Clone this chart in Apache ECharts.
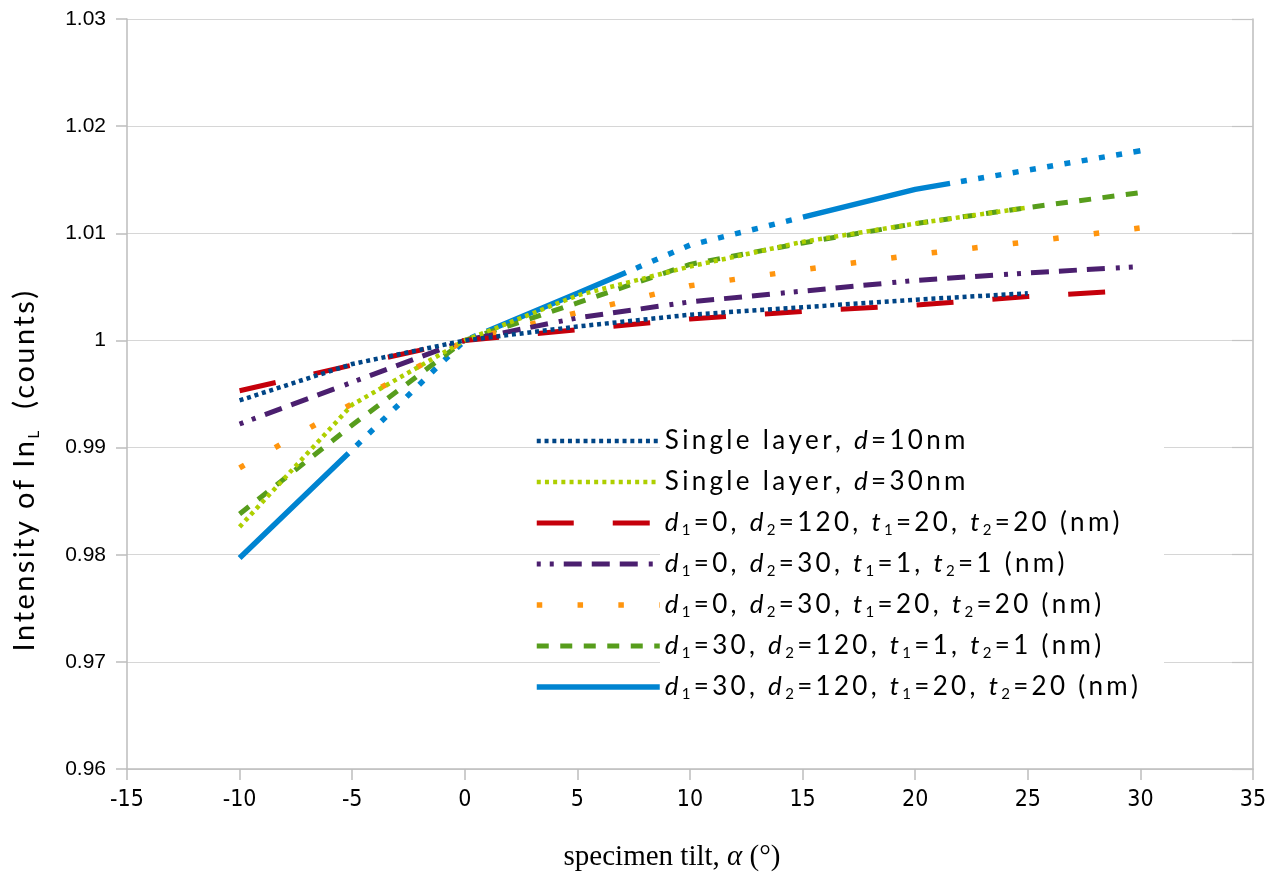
<!DOCTYPE html>
<html>
<head>
<meta charset="utf-8">
<title>Intensity vs specimen tilt</title>
<script src="https://cdn.jsdelivr.net/npm/echarts@6/dist/echarts.min.js"></script>
<style>
  html, body { margin: 0; padding: 0; background: #fff; }
  #chart { width: 1283px; height: 882px; }
</style>
</head>
<body>
<div id="chart"></div>
<script>
// Tilt angles (degrees) and normalised In L intensity for each model
const alpha = [-10, -5, 0, 5, 10, 15, 20, 25, 30];

const single10   = [0.9944, 0.9978, 1.0, 1.0013, 1.0024, 1.0031, 1.0038, 1.0044, null];
const single30   = [0.9826, 0.9940, 1.0, 1.0042, 1.0069, 1.0092, 1.0109, 1.0124, null];
const d0_120_t20 = [0.9953, 0.9977, 1.0, 1.0010, 1.0020, 1.0027, 1.0033, 1.0041, 1.0047];
const d0_30_t1   = [0.9922, 0.9961, 1.0, 1.0021, 1.0036, 1.0046, 1.0056, 1.0063, 1.0069];
const d0_30_t20  = [0.9881, 0.9941, 1.0, 1.0026, 1.0051, 1.0066, 1.0080, 1.0092, 1.0105];
const d30_120_t1 = [0.9838, 0.9921, 1.0, 1.0035, 1.0071, 1.0091, 1.0109, 1.0124, 1.0138];
const d30_120_t20= [0.9797, 0.9898, 1.0, 1.0044, 1.0089, 1.0115, 1.0141, 1.0159, 1.0177];

const seriesNames = [
  'Single layer, d=10nm',
  'Single layer, d=30nm',
  'd1=0, d2=120, t1=20, t2=20 (nm)',
  'd1=0, d2=30, t1=1, t2=1 (nm)',
  'd1=0, d2=30, t1=20, t2=20 (nm)',
  'd1=30, d2=120, t1=1, t2=1 (nm)',
  'd1=30, d2=120, t1=20, t2=20 (nm)'
];

// Legend labels: {i|..} italic symbol, {s|..} subscript
const legendMarkup = {
  'Single layer, d=10nm': 'Single layer, {i|d}=10nm',
  'Single layer, d=30nm': 'Single layer, {i|d}=30nm',
  'd1=0, d2=120, t1=20, t2=20 (nm)': '{i|d}{s|1}=0, {i|d}{s|2}=120, {i|t}{s|1}=20, {i|t}{s|2}=20 (nm)',
  'd1=0, d2=30, t1=1, t2=1 (nm)': '{i|d}{s|1}=0, {i|d}{s|2}=30, {i|t}{s|1}=1, {i|t}{s|2}=1 (nm)',
  'd1=0, d2=30, t1=20, t2=20 (nm)': '{i|d}{s|1}=0, {i|d}{s|2}=30, {i|t}{s|1}=20, {i|t}{s|2}=20 (nm)',
  'd1=30, d2=120, t1=1, t2=1 (nm)': '{i|d}{s|1}=30, {i|d}{s|2}=120, {i|t}{s|1}=1, {i|t}{s|2}=1 (nm)',
  'd1=30, d2=120, t1=20, t2=20 (nm)': '{i|d}{s|1}=30, {i|d}{s|2}=120, {i|t}{s|1}=20, {i|t}{s|2}=20 (nm)'
};

// Split markup into one rich token per character so each glyph gets extra tracking
function tracked(markup, plainStyle) {
  let out = '';
  const re = /\{(\w+)\|([^}]*)\}|([^{]+)/g;
  let m;
  while ((m = re.exec(markup))) {
    const style = m[1] || plainStyle;
    const txt = m[1] ? m[2] : m[3];
    for (const ch of txt) out += '{' + style + '|' + ch + '}';
  }
  return out;
}

const colors = ['#004586', '#aecf00', '#c5000b', '#4b1f6f', '#ff950e', '#579d1c', '#0084d1'];

// Solid stretch followed by a run of square dots, repeated
function longDashDots() {
  const a = [151, 11];
  for (let k = 0; k < 10; k++) a.push(6, 11.5);
  return a;
}

const styles = [
  { width: 4.5, type: [4, 3.8] },
  { width: 4.5, type: [4, 4.2] },
  { width: 5,   type: [37, 39] },
  { width: 5,   type: [4, 9, 4, 10, 18, 10, 18, 10, 18, 11] },
  { width: 5.5, type: [5.5, 35.3] },
  { width: 5,   type: [12, 11.5] },
  { width: 5.5, type: longDashDots() }
];

const valueSets = [single10, single30, d0_120_t20, d0_30_t1, d0_30_t20, d30_120_t1, d30_120_t20];

const series = valueSets.map((vals, i) => ({
  name: seriesNames[i],
  type: 'line',
  symbol: 'none',
  z: 9 - i,
  lineStyle: { color: colors[i], width: styles[i].width, type: styles[i].type, cap: 'butt' },
  itemStyle: { color: colors[i] },
  data: alpha.map((x, j) => vals[j] == null ? null : [x, vals[j]]).filter(p => p !== null)
}));

const chart = echarts.init(document.getElementById('chart'), null, { renderer: 'canvas' });

const gridLine = '#d6d6d6';
const axisGray = '#bdbdbd';
const sansUI = 'Lato, "Open Sans", sans-serif';
const track = 3.3;

chart.setOption({
  animation: false,
  backgroundColor: '#ffffff',
  grid: { left: 127, right: 30, top: 19, bottom: 113, containLabel: false },
  xAxis: {
    type: 'value',
    min: -15, max: 35, interval: 5,
    axisLine: { show: true, onZero: false, lineStyle: { color: axisGray, width: 1.5 } },
    axisTick: { show: true, inside: false, length: 11, lineStyle: { color: axisGray, width: 1.5 } },
    splitLine: { show: false },
    axisLabel: {
      margin: 20,
      color: '#000',
      fontFamily: '"Liberation Sans Narrow", "DejaVu Sans Condensed", sans-serif',
      fontSize: 23
    }
  },
  yAxis: [{
    type: 'value',
    min: 0.96, max: 1.03, interval: 0.01,
    axisLine: { show: true, onZero: false, lineStyle: { color: axisGray, width: 1.5 } },
    axisTick: { show: true, inside: false, length: 11, lineStyle: { color: axisGray, width: 1.5 } },
    splitLine: { show: true, lineStyle: { color: gridLine, width: 1.2 } },
    axisLabel: {
      margin: 21,
      color: '#000',
      fontFamily: '"Liberation Sans", Arial, sans-serif',
      fontSize: 21,
      formatter: v => String(+v.toFixed(2))
    }
  }, {
    type: 'value',
    position: 'right',
    min: 0.96, max: 1.03, interval: 0.01,
    axisLine: { show: true, onZero: false, lineStyle: { color: axisGray, width: 1.5 } },
    axisTick: { show: true, inside: true, length: 21, lineStyle: { color: '#c4c4c4', width: 1.2 } },
    splitLine: { show: false },
    axisLabel: { show: false }
  }],
  legend: {
    orient: 'vertical',
    left: 529,
    top: 421,
    z: 12,
    itemWidth: 123,
    itemHeight: 14,
    itemGap: 11,
    data: seriesNames,
    itemStyle: { opacity: 0 },
    lineStyle: { width: 'inherit' },
    formatter: name => tracked(legendMarkup[name], 'n'),
    textStyle: {
      color: '#000',
      fontFamily: sansUI,
      fontSize: 26,
      lineHeight: 30,
      rich: {
        n: { fontFamily: sansUI, fontSize: 26, lineHeight: 30, padding: [0, track, 0, 0], color: '#000' },
        i: { fontFamily: sansUI, fontStyle: 'italic', fontSize: 26, lineHeight: 30, padding: [0, track, 0, 0], color: '#000' },
        s: { fontFamily: sansUI, fontSize: 15, lineHeight: 10, padding: [0, track, 0, 0], verticalAlign: 'bottom', color: '#000' }
      }
    }
  },
  graphic: [
    {
      type: 'rect',
      z: 1,
      shape: { x: 660, y: 418, width: 504, height: 285 },
      style: { fill: '#ffffff' },
      silent: true
    },
    {
      type: 'text',
      x: 25, y: 470,
      rotation: Math.PI / 2,
      style: {
        text: tracked('Intensity of In{s|L}  (counts)', 'a'),
        align: 'center',
        verticalAlign: 'middle',
        rich: {
          a: { fontFamily: sansUI, fontSize: 29, lineHeight: 34, padding: [0, 2.4, 0, 0], fill: '#000' },
          s: { fontFamily: sansUI, fontSize: 15, lineHeight: 10, padding: [0, 2.4, 0, 0], verticalAlign: 'bottom', fill: '#000' }
        }
      }
    },
    {
      type: 'text',
      x: 672, y: 857,
      style: {
        text: '{t|specimen tilt, }{a|α}{t| (°)}',
        align: 'center',
        verticalAlign: 'middle',
        rich: {
          t: { fontFamily: '"Liberation Serif", "DejaVu Serif", serif', fontSize: 29, fill: '#000' },
          a: { fontFamily: '"Liberation Serif", "DejaVu Serif", serif', fontSize: 29, fontStyle: 'italic', fill: '#000' }
        }
      }
    }
  ],
  series: series
});
</script>
</body>
</html>
